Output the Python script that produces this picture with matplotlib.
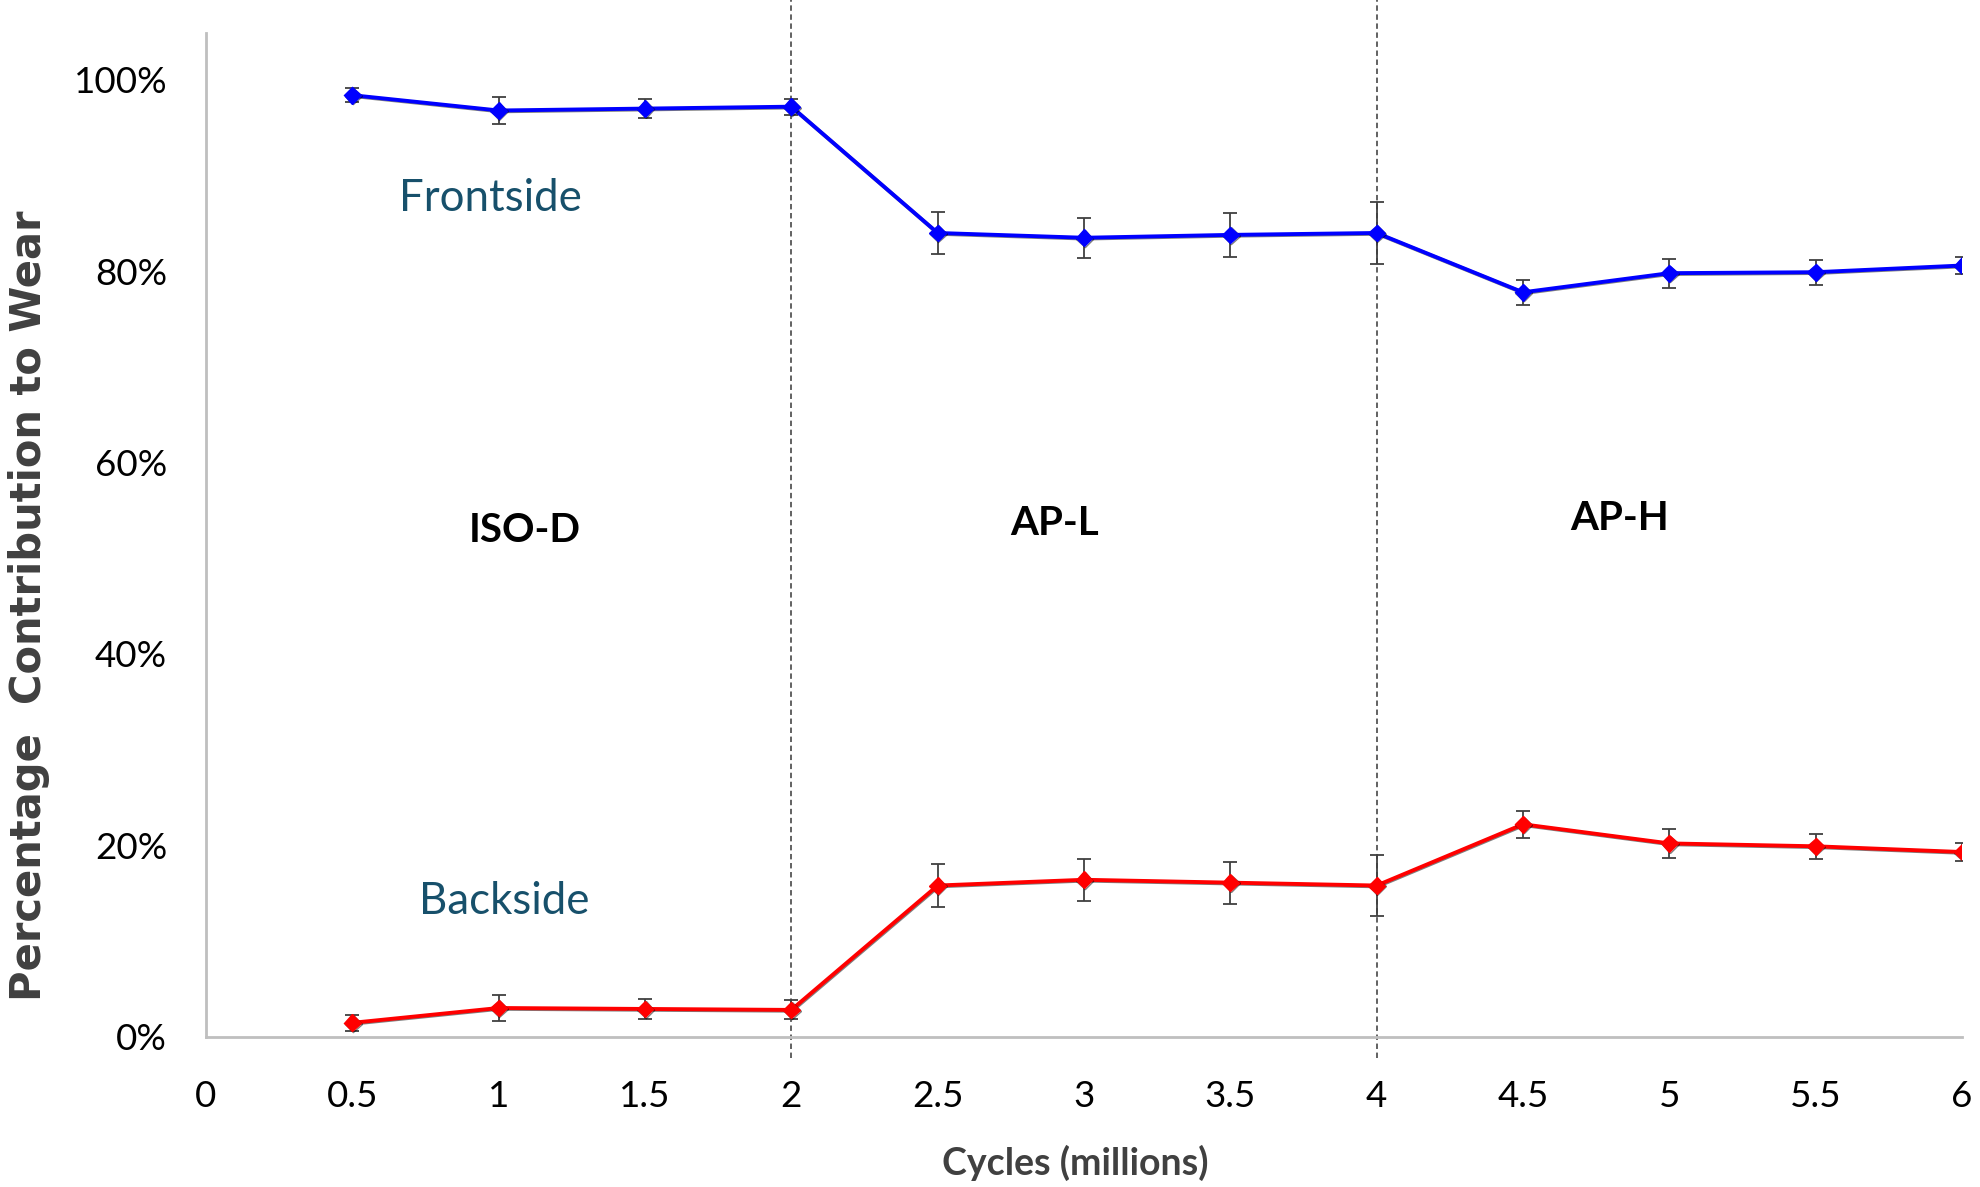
import matplotlib
matplotlib.use("Agg")
import matplotlib.pyplot as plt
import matplotlib.patheffects as pe
from matplotlib.ticker import FuncFormatter

# ---- data ----
cycles = [0.5, 1.0, 1.5, 2.0, 2.5, 3.0, 3.5, 4.0, 4.5, 5.0, 5.5, 6.0]
frontside = [98.4, 96.8, 97.0, 97.2, 84.0, 83.5, 83.8, 84.0, 77.8, 79.8, 79.9, 80.6]
frontside_err = [0.7, 1.45, 1.0, 0.85, 2.2, 2.1, 2.3, 3.2, 1.3, 1.5, 1.3, 0.85]
backside = [1.45, 3.0, 2.9, 2.8, 15.8, 16.4, 16.1, 15.8, 22.2, 20.2, 19.9, 19.3]
backside_err = [0.85, 1.4, 1.05, 1.0, 2.2, 2.2, 2.2, 3.2, 1.4, 1.5, 1.3, 0.9]
x_ticks = [0, 0.5, 1, 1.5, 2, 2.5, 3, 3.5, 4, 4.5, 5, 5.5, 6]
x_tick_labels = ["0", "0.5", "1", "1.5", "2", "2.5", "3", "3.5", "4", "4.5", "5", "5.5", "6"]
y_ticks = [0, 20, 40, 60, 80, 100]
phase_bounds = [2, 4]
phase_names = ["ISO-D", "AP-L", "AP-H"]
phase_label_pos = [(1.09, 52.9), (2.90, 53.6), (4.83, 54.2)]
series_names = ["Frontside", "Backside"]
series_label_pos = [(0.97, 87.6), (1.02, 14.1)]

plt.rcParams['font.family'] = ['Lato', 'DejaVu Sans']

fig = plt.figure(figsize=(19.8, 11.87), dpi=100)
ax = fig.add_axes([206/1980, 1 - 1036.7/1187, (1962-206)/1980, (1036.7-33)/1187])

shadow = [pe.SimpleLineShadow(offset=(0.6, -0.6), shadow_color='black', alpha=0.5), pe.Normal()]

for y, e, col in [(frontside, frontside_err, '#0000FF'), (backside, backside_err, '#FF0000')]:
    ax.errorbar(cycles, y, yerr=e, fmt='none', ecolor='#404040', elinewidth=1.3,
                capsize=5, capthick=1.3, zorder=3)
    ax.plot(cycles, y, color=col, lw=2.8, marker='D', ms=8.5, mec=col, mfc=col,
            zorder=4, path_effects=shadow)

for xb in phase_bounds:
    ax.axvline(xb, ymin=-0.021, ymax=1.04, color='#555555', lw=1.3,
               ls=(0, (3, 2)), clip_on=False, zorder=2)

for name, (px, py) in zip(phase_names, phase_label_pos):
    ax.text(px, py, name, ha='center', va='center', fontsize=29, fontweight='bold',
            color='black')

for name, (px, py) in zip(series_names, series_label_pos):
    ax.text(px, py, name, ha='center', va='center', fontsize=31.5, color='#17506B')

ax.set_xlim(0, 6)
ax.set_ylim(0, 104.9)
ax.set_xticks(x_ticks)
ax.set_xticklabels(x_tick_labels)
ax.set_yticks(y_ticks)
ax.yaxis.set_major_formatter(FuncFormatter(lambda v, p: f"{int(v)}%"))
ax.tick_params(axis='both', length=0, labelsize=26.5, colors='black')
ax.tick_params(axis='x', pad=31)
ax.tick_params(axis='y', pad=28)

for s in ['top', 'right']:
    ax.spines[s].set_visible(False)
for s in ['left', 'bottom']:
    ax.spines[s].set_color('#BFBFBF')
    ax.spines[s].set_linewidth(2)

ax.set_xlabel("Cycles (millions)", fontsize=27, fontweight='bold', color='#404040')
ax.xaxis.set_label_coords(0.495, -0.108)
ax.set_ylabel("Percentage  Contribution to Wear", fontsize=30, fontweight='bold',
              color='#404040', family=['DejaVu Sans'])
ax.yaxis.set_label_coords(-0.089, 0.429)

fig.savefig("out.png", dpi=100)
